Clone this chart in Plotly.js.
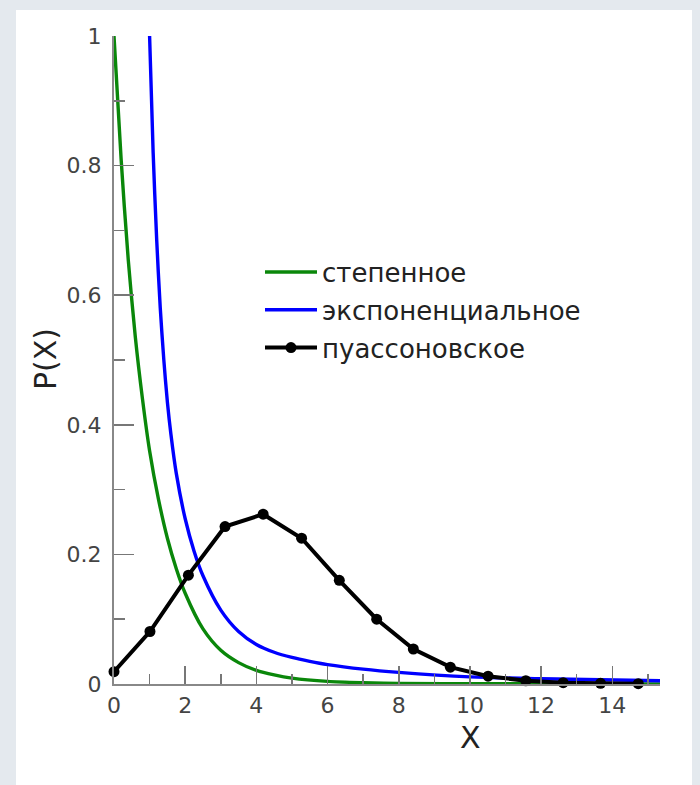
<!DOCTYPE html>
<html>
<head>
<meta charset="utf-8">
<script src="https://cdn.plot.ly/plotly-3.0.1.min.js"></script>
<style>
html,body{margin:0;padding:0;background:#fff;}
#chart{width:700px;height:785px;}
</style>
</head>
<body>
<div id="chart"></div>
<script>
// Series names (legend)
const seriesNames = ["степенное", "экспоненциальное", "пуассоновское"];

// Green curve ("степенное")
const powerX = [0, 0.2, 0.4, 0.6, 0.8, 1.0, 1.25, 1.5, 1.75, 2.0, 2.5, 3.0, 3.5, 4.0, 4.5, 5.0, 6.0, 7.0, 8.0, 10.0, 15.34];
const powerY = [1, 0.81, 0.655, 0.535, 0.44, 0.36, 0.285, 0.225, 0.178, 0.14, 0.085, 0.052, 0.033, 0.021, 0.014, 0.009, 0.004, 0.002, 0.001, 0.0005, 0.0002];

// Blue curve ("экспоненциальное")
const expoX = [1.0, 1.1, 1.2, 1.3, 1.4, 1.5, 1.6, 1.75, 2.0, 2.25, 2.5, 3.0, 3.5, 4.0, 4.5, 5.0, 5.5, 6.0, 7.0, 8.0, 10.0, 12.0, 15.34];
const expoY = [1.0, 0.82, 0.685, 0.58, 0.50, 0.435, 0.385, 0.325, 0.255, 0.205, 0.167, 0.114, 0.081, 0.061, 0.049, 0.041, 0.035, 0.030, 0.023, 0.018, 0.011, 0.008, 0.005];

// Black points ("пуассоновское")
const poisX = [0, 1.01, 2.09, 3.12, 4.19, 5.27, 6.33, 7.38, 8.41, 9.45, 10.51, 11.57, 12.62, 13.67, 14.73];
const poisY = [0.019, 0.081, 0.168, 0.243, 0.262, 0.225, 0.160, 0.100, 0.054, 0.026, 0.012, 0.005, 0.002, 0.001, 0.0005];

// Axis labels
const xTitle = "X";
const yTitle = "P(X)";

const traces = [
  {x: powerX, y: powerY, name: seriesNames[0], type: "scatter", mode: "lines",
   line: {color: "#0a870a", width: 3.4, shape: "spline", smoothing: 0.8}, legendgroup: "a"},
  {x: expoX, y: expoY, name: seriesNames[1], type: "scatter", mode: "lines",
   line: {color: "#0000ff", width: 3.4, shape: "spline", smoothing: 0.8}, legendgroup: "b"},
  {x: poisX, y: poisY, name: seriesNames[2], type: "scatter", mode: "lines+markers",
   line: {color: "#000000", width: 4}, marker: {color: "#000000", size: 11},
   cliponaxis: false, legendgroup: "c"}
];

const tickFont = {family: "DejaVu Sans", size: 22, color: "#444"};

// paper coordinate helpers for the decorative frame (pixel -> paper)
const px = v => (v - 114) / 546;
const py = v => (684 - v) / 648;
const frameColor = "#e4e9ee";

const layout = {
  width: 700, height: 785,
  margin: {l: 114, r: 40, t: 36, b: 101},
  paper_bgcolor: "#ffffff",
  plot_bgcolor: "#ffffff",
  showlegend: true,
  legend: {
    x: px(260), y: 0.672, xanchor: "left", yanchor: "top",
    bgcolor: "rgba(0,0,0,0)", borderwidth: 0,
    font: {family: "DejaVu Sans", size: 26, color: "#222"},
    itemwidth: 52,
    tracegroupgap: 1
  },
  shapes: [
    {type: "rect", xref: "paper", yref: "paper", layer: "below", line: {width: 0},
     fillcolor: frameColor, x0: px(0), x1: px(700), y0: py(10), y1: py(0)},
    {type: "rect", xref: "paper", yref: "paper", layer: "below", line: {width: 0},
     fillcolor: frameColor, x0: px(0), x1: px(16), y0: py(785), y1: py(0)},
    {type: "rect", xref: "paper", yref: "paper", layer: "below", line: {width: 0},
     fillcolor: frameColor, x0: px(692), x1: px(700), y0: py(785), y1: py(0)}
  ],
  xaxis: {
    range: [0, 15.34], dtick: 2, tick0: 0,
    ticks: "inside", ticklen: 18, tickwidth: 1.5, tickcolor: "#777",
    minor: {dtick: 1, ticks: "inside", ticklen: 10, tickwidth: 1.5, tickcolor: "#777"},
    showline: true, linecolor: "#888", linewidth: 2,
    showgrid: false, zeroline: false,
    tickfont: tickFont, ticklabelstandoff: 1
  },
  yaxis: {
    range: [0, 1], dtick: 0.2, tick0: 0,
    ticks: "inside", ticklen: 20, tickwidth: 1.5, tickcolor: "#777",
    minor: {dtick: 0.1, ticks: "inside", ticklen: 11, tickwidth: 1.5, tickcolor: "#777"},
    showline: true, linecolor: "#888", linewidth: 2,
    showgrid: false, zeroline: false,
    tickfont: tickFont, ticklabelstandoff: 6
  },
  annotations: [
    {text: xTitle, xref: "paper", yref: "paper", x: px(470), y: py(737),
     xanchor: "center", yanchor: "middle", showarrow: false,
     font: {family: "DejaVu Sans", size: 30, color: "#222"}},
    {text: yTitle, xref: "paper", yref: "paper", x: px(45), y: py(359),
     xanchor: "center", yanchor: "middle", showarrow: false, textangle: -90,
     font: {family: "DejaVu Sans", size: 30, color: "#222"}}
  ]
};

Plotly.newPlot("chart", traces, layout, {staticPlot: true, displayModeBar: false});
</script>
</body>
</html>
